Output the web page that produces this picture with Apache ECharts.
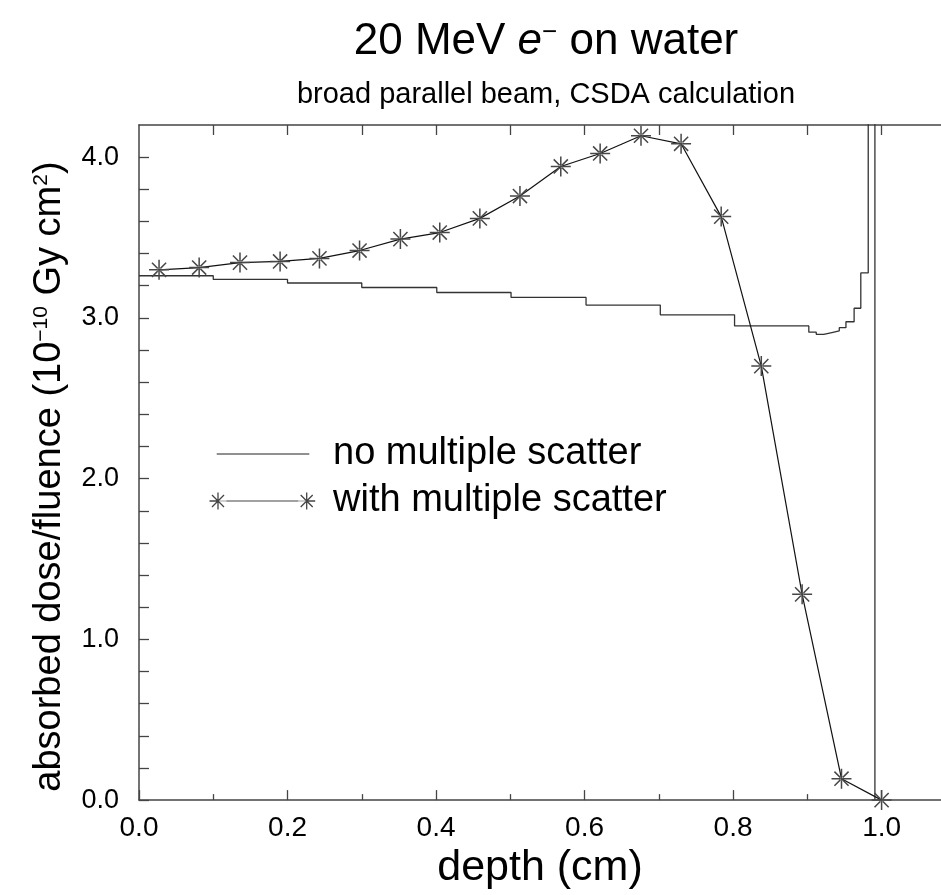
<!DOCTYPE html>
<html>
<head>
<meta charset="utf-8">
<script src="https://cdn.jsdelivr.net/npm/echarts@6/dist/echarts.min.js"></script>
<style>
  html, body { margin: 0; padding: 0; background: #fff; }
  #chart { width: 941px; height: 895px; }
</style>
</head>
<body>
<div id="chart"></div>
<script>
// ---- data ----
const starDepth = [0.027, 0.081, 0.136, 0.190, 0.243, 0.297, 0.352, 0.405, 0.459, 0.513,
                   0.568, 0.621, 0.676, 0.730, 0.784, 0.838, 0.893, 0.946, 1.000];
const starDose  = [3.299, 3.313, 3.344, 3.351, 3.370, 3.419, 3.490, 3.531, 3.619, 3.758,
                   3.942, 4.023, 4.133, 4.083, 3.630, 2.700, 1.280, 0.133, 0.000];

// step edges (left edge of each bin) and dose in that bin; final point closes the spike
const stepDepth = [0.000, 0.100, 0.200, 0.300, 0.401, 0.501, 0.602, 0.702, 0.802, 0.902,
                   0.912, 0.922, 0.933, 0.943, 0.952, 0.963, 0.972, 0.982, 0.991];
const stepDose  = [3.262, 3.239, 3.217, 3.189, 3.158, 3.127, 3.080, 3.019, 2.950, 2.911,
                   2.898, 2.909, 2.919, 2.939, 2.976, 3.060, 3.280, 8.000, 0.000];

const xMajorTicks = [0, 0.2, 0.4, 0.6, 0.8, 1.0];
const xMinorTicks = [0.1, 0.3, 0.5, 0.7, 0.9];
const xTopTicks   = [0.1, 0.2, 0.3, 0.4, 0.5, 0.6, 0.7, 0.8, 0.9, 1.0];
const seriesNames = ['no multiple scatter', 'with multiple scatter'];

// ---- helpers for drawing shapes (style only) ----
function asterisk(cx, cy, r, w) {
  let p = '';
  [0, 45, 90, 135].forEach(function (deg) {
    const a = deg * Math.PI / 180;
    const dx = Math.cos(a), dy = Math.sin(a);
    const nx = -dy, ny = dx;
    const pts = [
      [cx + dx * r + nx * w, cy + dy * r + ny * w],
      [cx + dx * r - nx * w, cy + dy * r - ny * w],
      [cx - dx * r - nx * w, cy - dy * r - ny * w],
      [cx - dx * r + nx * w, cy - dy * r + ny * w]
    ];
    p += 'M' + pts.map(function (q) { return q[0].toFixed(2) + ' ' + q[1].toFixed(2); }).join(' L') + ' Z ';
  });
  return p;
}
const starSymbol = 'path://' + asterisk(10, 10, 10, 0.75) + 'M8.5 8.5 L11.5 8.5 L11.5 11.5 L8.5 11.5 Z';
const IW = 119, IH = 20;
const bounds = 'M0 0 L0 0 M' + IW + ' ' + IH + ' L' + IW + ' ' + IH + ' ';
const legendIcon1 = 'path://' + bounds + 'M7.7 9.4 L100.3 9.4 L100.3 10.6 L7.7 10.6 Z';
const legendIcon2 = 'path://' + bounds + 'M9 9.45 L97.7 9.45 L97.7 10.55 L9 10.55 Z ' +
  asterisk(9, 10, 8.5, 0.65) + asterisk(97.7, 10, 8.5, 0.65);

const FONT = '"Liberation Sans", Arial, Helvetica, sans-serif';

const chart = echarts.init(document.getElementById('chart'), null, { renderer: 'canvas' });

const stepData = stepDepth.map(function (d, i) { return [d, stepDose[i]]; });
const starData = starDepth.map(function (d, i) { return [d, starDose[i]]; });

const axisLineStyle = { color: '#444', width: 1.5 };

chart.setOption({
  animation: false,
  backgroundColor: '#fff',
  textStyle: { fontFamily: FONT, color: '#000' },
  title: [
    {
      text: '20 MeV {i|e}{s|−} on water',
      left: 541, top: 15, textAlign: 'center',
      textStyle: {
        fontFamily: FONT, fontSize: 44, fontWeight: 'normal', color: '#000',
        rich: {
          i: { fontFamily: FONT, fontSize: 44, fontStyle: 'italic', color: '#000' },
          s: { fontFamily: FONT, fontSize: 26, verticalAlign: 'top', color: '#000', padding: [0, 0, 16, 0] }
        }
      }
    },
    {
      text: 'broad parallel beam, CSDA calculation',
      left: 541, top: 75, textAlign: 'center',
      textStyle: { fontFamily: FONT, fontSize: 29, fontWeight: 'normal', color: '#000' }
    }
  ],
  legend: {
    left: 209, top: 432, orient: 'vertical', padding: 0,
    itemWidth: IW, itemHeight: IH, itemGap: 3,
    selectedMode: false,
    textStyle: { fontFamily: FONT, fontSize: 38, color: '#000', lineHeight: 44 },
    data: [
      { name: seriesNames[0], icon: legendIcon1, itemStyle: { color: '#222', borderWidth: 0 } },
      { name: seriesNames[1], icon: legendIcon2, itemStyle: { color: '#444', borderWidth: 0 } }
    ]
  },
  grid: { left: 139, right: 0, top: 125, bottom: 84, containLabel: false },
  xAxis: [
    {
      type: 'value', min: 0, max: 1.08, position: 'bottom',
      name: 'depth (cm)', nameLocation: 'middle', nameGap: 38,
      nameTextStyle: { fontFamily: FONT, fontSize: 43, color: '#000' },
      axisLine: { show: true, onZero: false, lineStyle: axisLineStyle },
      axisTick: { show: true, inside: true, length: 10, customValues: xMajorTicks, lineStyle: { color: '#444', width: 1.3 } },
      axisLabel: { customValues: xMajorTicks, margin: 14, fontFamily: FONT, fontSize: 28, color: '#000',
                   formatter: function (v) { return v.toFixed(1); } },
      splitLine: { show: false }
    },
    {
      type: 'value', min: 0, max: 1.08, position: 'bottom',
      axisLine: { show: false },
      axisTick: { show: true, inside: true, length: 6, customValues: xMinorTicks, lineStyle: { color: '#444', width: 1.3 } },
      axisLabel: { show: false },
      splitLine: { show: false }
    },
    {
      type: 'value', min: 0, max: 1.08, position: 'top',
      axisLine: { show: true, onZero: false, lineStyle: axisLineStyle },
      axisTick: { show: true, inside: true, length: 10, customValues: xTopTicks, lineStyle: { color: '#444', width: 1.3 } },
      axisLabel: { show: false },
      splitLine: { show: false }
    }
  ],
  yAxis: [
    {
      type: 'value', min: 0, max: 4.2, interval: 0.2, position: 'left',
      name: '{a|absorbed dose/fluence (10}{s|−10}{a| Gy cm}{s|2}{a|)}',
      nameLocation: 'middle', nameGap: 70, nameRotate: 90,
      nameTextStyle: {
        fontFamily: FONT, fontSize: 38, color: '#000', padding: [0, 28, 0, 0],
        rich: {
          a: { fontFamily: FONT, fontSize: 38, color: '#000' },
          s: { fontFamily: FONT, fontSize: 21, color: '#000', verticalAlign: 'top' }
        }
      },
      axisLine: { show: true, onZero: false, lineStyle: axisLineStyle },
      axisTick: { show: true, inside: true, length: 10, lineStyle: { color: '#444', width: 1.3 } },
      axisLabel: {
        margin: 20, fontFamily: FONT, fontSize: 27, color: '#000',
        showMaxLabel: false,
        formatter: function (v) { return Math.abs(v - Math.round(v)) < 1e-6 ? v.toFixed(1) : ''; }
      },
      splitLine: { show: false }
    }
  ],
  series: [
    {
      name: seriesNames[0], type: 'line', step: 'end',
      data: stepData, xAxisIndex: 0, yAxisIndex: 0,
      showSymbol: false, symbol: 'none', clip: true,
      color: '#222',
      lineStyle: { color: '#333', width: 1.3 },
      z: 2
    },
    {
      name: seriesNames[1], type: 'line',
      data: starData, xAxisIndex: 0, yAxisIndex: 0,
      symbol: starSymbol, symbolSize: 20, showSymbol: true, clip: false,
      color: '#444',
      itemStyle: { color: '#474747' },
      lineStyle: { color: '#111', width: 1.2 },
      z: 3
    }
  ]
});
</script>
</body>
</html>
